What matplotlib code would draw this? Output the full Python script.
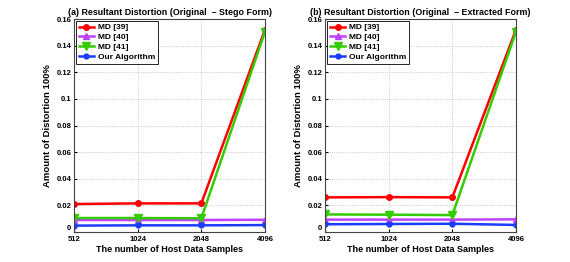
import numpy as np
import matplotlib.pyplot as plt

samples = ['512', '1024', '2048', '4096']
labels = ['MD [39]', 'MD [40]', 'MD [41]', 'Our Algorithm']

# (a) Original - Stego form
stego = {
    'MD [39]': [0.0210, 0.0215, 0.0215, 0.1520],
    'MD [40]': [0.0090, 0.0090, 0.0090, 0.0092],
    'MD [41]': [0.0105, 0.0105, 0.0103, 0.1505],
    'Our Algorithm': [0.0048, 0.0050, 0.0050, 0.0052],
}
# (b) Original - Extracted form
extracted = {
    'MD [39]': [0.0260, 0.0262, 0.0260, 0.1520],
    'MD [40]': [0.0093, 0.0093, 0.0093, 0.0095],
    'MD [41]': [0.0132, 0.0130, 0.0127, 0.1505],
    'Our Algorithm': [0.0058, 0.0060, 0.0062, 0.0053],
}
titles = ['(a) Resultant Distortion (Original  \u2013 Stego Form)',
          '(b) Resultant Distortion (Original  \u2013 Extracted Form)']

styles = {
    'MD [39]': dict(color='#ff0000', marker='o', ms=4),
    'MD [40]': dict(color='#c040ff', marker='^', ms=5),
    'MD [41]': dict(color='#33cc00', marker='v', ms=6),
    'Our Algorithm': dict(color='#1a3cff', marker='o', ms=3.5),
}

plt.rcParams['font.family'] = ['Liberation Sans', 'DejaVu Sans']
plt.rcParams['font.weight'] = 'bold'

fig = plt.figure(figsize=(5.7, 2.62), dpi=100)
axes = [fig.add_axes([74 / 570, 1 - 232 / 262, 191 / 570, 213 / 262]),
        fig.add_axes([325 / 570, 1 - 232 / 262, 191 / 570, 213 / 262])]

x = np.arange(len(samples))
for ax, data, title in zip(axes, [stego, extracted], titles):
    for name in labels:
        st = styles[name]
        ax.plot(x, data[name], color=st['color'], marker=st['marker'],
                markersize=st['ms'], linewidth=1.8, label=name)
    ax.set_xlim(0, 3)
    ax.set_ylim(0, 0.16)
    ax.set_xticks(x)
    ax.set_xticklabels(samples)
    ax.set_yticks(np.arange(0, 0.161, 0.02))
    ax.set_yticklabels(['0'] + ['%g' % v for v in np.arange(0.02, 0.161, 0.02)])
    ax.tick_params(labelsize=5.5, direction='in', length=2, pad=2)
    ax.tick_params(axis='x', pad=3)
    ax.get_yticklabels()[0].set_verticalalignment('bottom')
    ax.grid(True, linestyle=':', color='#bbbbbb', linewidth=0.6)
    for sp in ax.spines.values():
        sp.set_linewidth(0.8)
        sp.set_color('#444444')
    ax.set_title(title, fontsize=6.4, fontweight='bold', pad=3)
    ax.set_xlabel('The number of Host Data Samples', fontsize=6.5,
                  fontweight='bold', labelpad=1)
    ax.set_ylabel('Amount of Distortion 100%', fontsize=6.8,
                  fontweight='bold', labelpad=3)
    leg = ax.legend(loc='upper left', fontsize=6, fancybox=False,
                    edgecolor='black', framealpha=1, borderpad=0.3,
                    labelspacing=0.25, handlelength=1.9, handletextpad=0.4,
                    borderaxespad=0.25)
    leg.get_frame().set_linewidth(0.6)

fig.savefig('out.png', dpi=100)
